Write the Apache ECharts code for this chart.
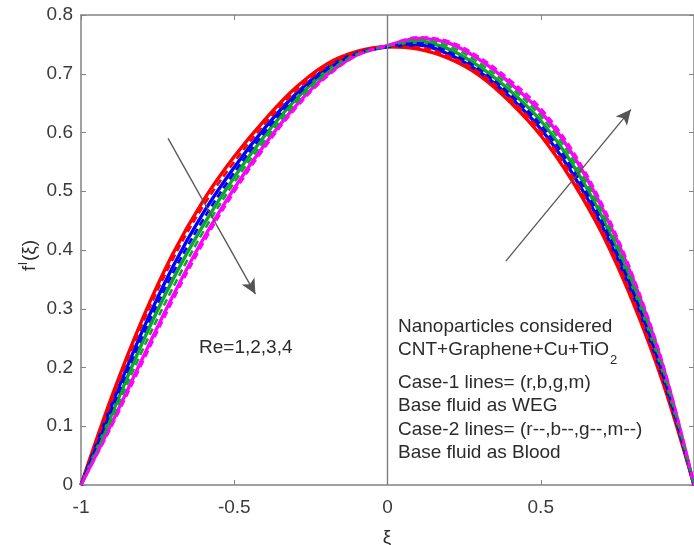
<!DOCTYPE html>
<html>
<head>
<meta charset="utf-8">
<script src="https://cdn.jsdelivr.net/npm/echarts@6/dist/echarts.min.js"></script>
<style>
  html, body { margin: 0; padding: 0; background: #ffffff; }
  #chart { width: 694px; height: 545px; }
</style>
</head>
<body>
<div id="chart"></div>
<script>
// Similarity variable xi across the channel
const xi = [-1, -0.9, -0.8, -0.7, -0.6, -0.5, -0.4, -0.3, -0.2, -0.1, 0,
            0.1, 0.2, 0.3, 0.4, 0.5, 0.6, 0.7, 0.8, 0.9, 1];

// Case-1 (WEG base fluid), Re = 1, 2, 3, 4
const weg_Re1 = [0, 0.150, 0.282, 0.394, 0.485, 0.559, 0.622, 0.676, 0.716, 0.738, 0.746,
                 0.742, 0.726, 0.697, 0.652, 0.595, 0.520, 0.428, 0.312, 0.172, 0];
const weg_Re2 = [0, 0.136, 0.262, 0.372, 0.464, 0.541, 0.608, 0.665, 0.709, 0.735, 0.746,
                 0.749, 0.733, 0.703, 0.660, 0.606, 0.533, 0.441, 0.325, 0.181, 0];
const weg_Re3 = [0, 0.120, 0.242, 0.350, 0.443, 0.524, 0.595, 0.656, 0.704, 0.734, 0.747,
                 0.755, 0.742, 0.712, 0.671, 0.620, 0.549, 0.456, 0.338, 0.190, 0];
const weg_Re4 = [0, 0.105, 0.215, 0.322, 0.420, 0.505, 0.580, 0.645, 0.697, 0.732, 0.748,
                 0.760, 0.752, 0.724, 0.684, 0.635, 0.566, 0.472, 0.352, 0.200, 0];

// Case-2 (Blood base fluid), Re = 1, 2, 3, 4
const blood_Re1 = [0, 0.144, 0.274, 0.385, 0.476, 0.550, 0.615, 0.670, 0.712, 0.736, 0.746,
                   0.745, 0.730, 0.702, 0.658, 0.602, 0.528, 0.435, 0.319, 0.177, 0];
const blood_Re2 = [0, 0.129, 0.253, 0.361, 0.453, 0.532, 0.601, 0.661, 0.706, 0.734, 0.746,
                   0.752, 0.737, 0.707, 0.665, 0.613, 0.541, 0.448, 0.331, 0.185, 0];
const blood_Re3 = [0, 0.112, 0.229, 0.336, 0.432, 0.515, 0.587, 0.650, 0.700, 0.733, 0.747,
                   0.757, 0.747, 0.718, 0.678, 0.628, 0.558, 0.464, 0.345, 0.195, 0];
const blood_Re4 = [0, 0.100, 0.208, 0.315, 0.413, 0.499, 0.575, 0.641, 0.694, 0.731, 0.748,
                   0.762, 0.755, 0.728, 0.689, 0.641, 0.572, 0.478, 0.357, 0.204, 0];

// Trend arrows (start, end) in data units
const arrowLeft = [[-0.716, 0.590], [-0.431, 0.325]];
const arrowRight = [[0.386, 0.381], [0.794, 0.639]];

// Axis ticks
const xTicks = { min: -1, max: 1, step: 0.5 };
const yTicks = { min: 0, max: 0.8, step: 0.1 };

const annotationLines = [
  'Nanoparticles considered',
  'CNT+Graphene+Cu+TiO',
  'Case-1 lines= (r,b,g,m)',
  'Base fluid as WEG',
  'Case-2 lines= (r--,b--,g--,m--)',
  'Base fluid as Blood'
];

const FONT = '"Liberation Sans", Arial, sans-serif';
const AXIS_GRAY = '#828282';
const TEXT = '#2b2b2b';

function pairs(ys) { return xi.map((x, i) => [x, ys[i]]); }

function curve(name, ys, color, dashed) {
  return {
    name: name,
    type: 'line',
    data: pairs(ys),
    smooth: 0.35,
    showSymbol: false,
    symbol: 'none',
    silent: true,
    lineStyle: {
      color: color,
      width: dashed ? 2.6 : 3.4,
      type: dashed ? [7, 4] : 'solid'
    },
    z: dashed ? 3 : 2
  };
}

const RED = '#ff0000', BLUE = '#0000ff', GREEN = '#0fa52a', MAGENTA = '#ff00ff';

const series = [
  curve('r', weg_Re1, RED, false),
  curve('b', weg_Re2, BLUE, false),
  curve('g', weg_Re3, GREEN, false),
  curve('m', weg_Re4, MAGENTA, false),
  curve('r--', blood_Re1, RED, true),
  curve('b--', blood_Re2, BLUE, true),
  curve('g--', blood_Re3, GREEN, true),
  curve('m--', blood_Re4, MAGENTA, true)
];

// Zero line and trend arrows drawn through the first series
series[0].markLine = {
  silent: true,
  animation: false,
  label: { show: false },
  symbol: ['none', 'none'],
  data: [
    [{ coord: [0, yTicks.min], lineStyle: { color: '#7d7d7d', width: 1.4, type: 'solid' } },
     { coord: [0, yTicks.max] }],
    [{ coord: arrowLeft[0], symbol: 'none', lineStyle: { color: '#555555', width: 1.3, type: 'solid' } },
     { coord: arrowLeft[1], symbol: 'arrow', symbolSize: [11, 15] }],
    [{ coord: arrowRight[0], symbol: 'none', lineStyle: { color: '#555555', width: 1.3, type: 'solid' } },
     { coord: arrowRight[1], symbol: 'arrow', symbolSize: [11, 15] }]
  ]
};

const tickLabelStyle = { fontFamily: FONT, fontSize: 19, color: '#3a3a3a' };

const option = {
  animation: false,
  backgroundColor: '#ffffff',
  grid: { left: 81, right: 0, top: 15, bottom: 60, containLabel: false },
  xAxis: [
    {
      type: 'value', min: xTicks.min, max: xTicks.max, interval: xTicks.step,
      position: 'bottom',
      axisLine: { show: true, onZero: false, lineStyle: { color: AXIS_GRAY, width: 1.5 } },
      axisTick: { show: true, inside: true, length: 5, lineStyle: { color: AXIS_GRAY } },
      axisLabel: Object.assign({ margin: 13, showMaxLabel: false }, tickLabelStyle),
      splitLine: { show: false }
    },
    {
      type: 'value', min: xTicks.min, max: xTicks.max, interval: xTicks.step,
      position: 'top',
      axisLine: { show: true, onZero: false, lineStyle: { color: AXIS_GRAY, width: 1.5 } },
      axisTick: { show: true, inside: true, length: 5, lineStyle: { color: AXIS_GRAY } },
      axisLabel: { show: false },
      splitLine: { show: false }
    }
  ],
  yAxis: [
    {
      type: 'value', min: yTicks.min, max: yTicks.max, interval: yTicks.step,
      position: 'left',
      axisLine: { show: true, onZero: false, lineStyle: { color: AXIS_GRAY, width: 1.5 } },
      axisTick: { show: true, inside: true, length: 5, lineStyle: { color: AXIS_GRAY } },
      axisLabel: Object.assign({ margin: 8, formatter: v => String(Math.round(v * 10) / 10) }, tickLabelStyle),
      splitLine: { show: false }
    },
    {
      type: 'value', min: yTicks.min, max: yTicks.max, interval: yTicks.step,
      position: 'right',
      axisLine: { show: true, onZero: false, lineStyle: { color: AXIS_GRAY, width: 1.5 } },
      axisTick: { show: true, inside: true, length: 5, lineStyle: { color: AXIS_GRAY } },
      axisLabel: { show: false },
      splitLine: { show: false }
    }
  ],
  series: series,
  graphic: [
    // y-axis title f^l(xi), read bottom to top
    {
      type: 'group', x: 30, y: 252, rotation: Math.PI / 2,
      children: [
        { type: 'text', x: -19, y: 0, style: { text: 'f', font: '19px ' + FONT, fill: TEXT, textVerticalAlign: 'middle' } },
        { type: 'text', x: -13, y: -7, style: { text: 'l', font: '13px ' + FONT, fill: TEXT, textVerticalAlign: 'middle' } },
        { type: 'text', x: -9, y: 0, style: { text: '(ξ)', font: '19px ' + FONT, fill: TEXT, textVerticalAlign: 'middle' } }
      ]
    },
    // x-axis title
    { type: 'text', x: 387, y: 538, style: { text: 'ξ', font: '19px ' + FONT, fill: TEXT, textAlign: 'center', textVerticalAlign: 'middle' } },
    // Reynolds number note
    { type: 'text', x: 199, y: 348, style: { text: 'Re=1,2,3,4', font: '19px ' + FONT, fill: TEXT, textVerticalAlign: 'middle' } },
    // Note block describing the cases
    { type: 'text', x: 398, y: 327, style: { text: annotationLines[0], font: '19px ' + FONT, fill: TEXT, textVerticalAlign: 'middle' } },
    { type: 'text', x: 398, y: 350, style: { text: annotationLines[1], font: '19px ' + FONT, fill: TEXT, textVerticalAlign: 'middle' } },
    { type: 'text', x: 610, y: 360, style: { text: '2', font: '13px ' + FONT, fill: TEXT, textVerticalAlign: 'middle' } },
    { type: 'text', x: 398, y: 383, style: { text: annotationLines[2], font: '19px ' + FONT, fill: TEXT, textVerticalAlign: 'middle' } },
    { type: 'text', x: 398, y: 406, style: { text: annotationLines[3], font: '19px ' + FONT, fill: TEXT, textVerticalAlign: 'middle' } },
    { type: 'text', x: 398, y: 430, style: { text: annotationLines[4], font: '19px ' + FONT, fill: TEXT, textVerticalAlign: 'middle' } },
    { type: 'text', x: 398, y: 453, style: { text: annotationLines[5], font: '19px ' + FONT, fill: TEXT, textVerticalAlign: 'middle' } }
  ]
};

const chart = echarts.init(document.getElementById('chart'), null, { renderer: 'canvas' });
chart.setOption(option);
</script>
</body>
</html>
